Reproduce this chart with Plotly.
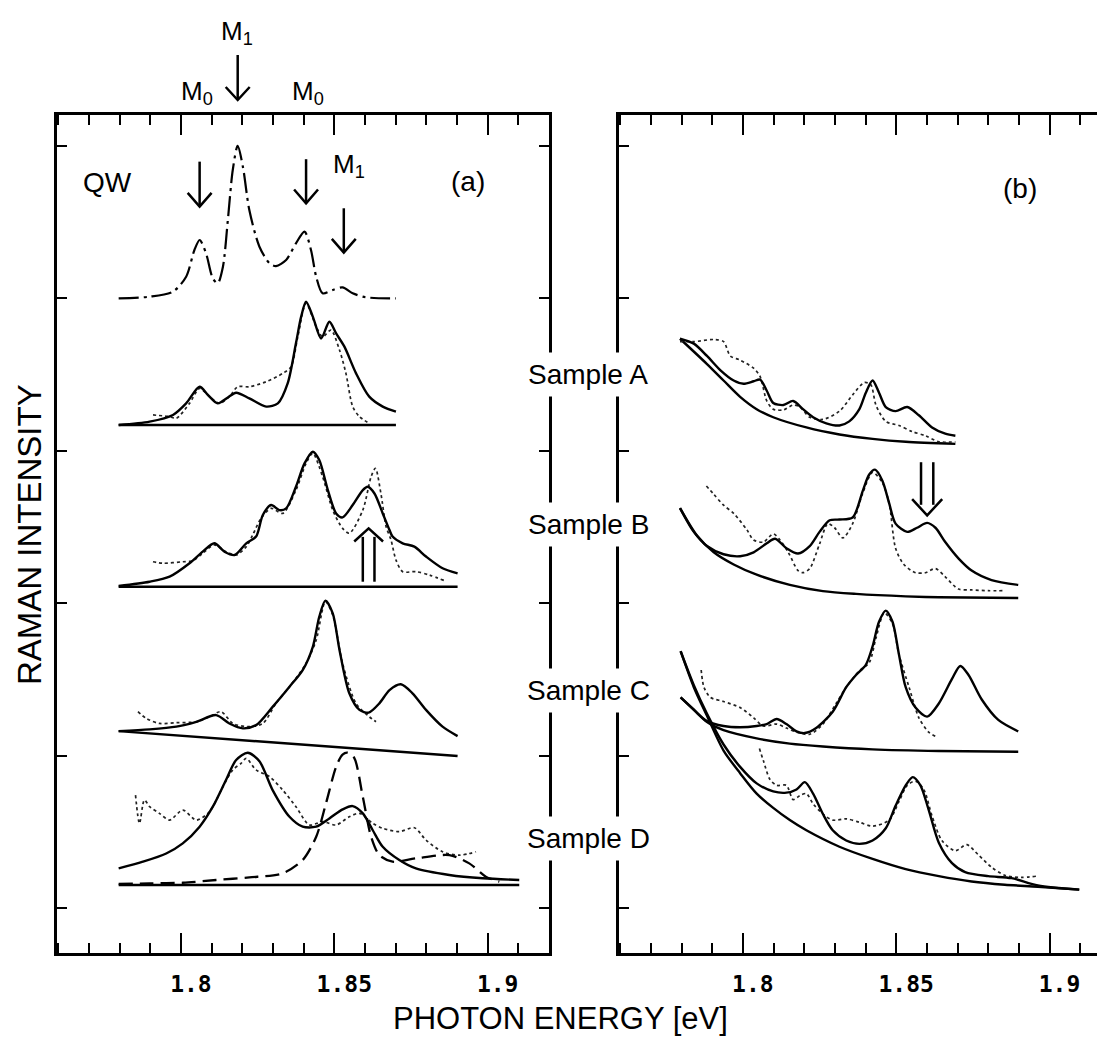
import plotly.graph_objects as go

# ---------------- panel (a) ----------------
qw_x = [1.7797, 1.7898, 1.7974, 1.8017, 1.8044, 1.8061, 1.8082, 1.8104, 1.8120, 1.8137, 1.8153, 1.8169, 1.8185,
        1.8202, 1.8223, 1.8256, 1.8289, 1.8310, 1.8343, 1.8375, 1.8403, 1.8424, 1.8441, 1.8462, 1.8495, 1.8527,
        1.8560, 1.8603, 1.8701]
qw_y = [4.000, 4.011, 4.044, 4.142, 4.317, 4.383, 4.295, 4.131, 4.099, 4.208, 4.514, 4.842, 5.000,
        4.864, 4.580, 4.339, 4.230, 4.212, 4.252, 4.361, 4.438, 4.317, 4.142, 4.033, 4.055, 4.072,
        4.033, 4.007, 4.000]

a_fit_x = [1.7797, 1.7898, 1.7974, 1.8017, 1.8061, 1.8088, 1.8120, 1.8153, 1.8180, 1.8223, 1.8278, 1.8316, 1.8348,
           1.8375, 1.8392, 1.8408, 1.8430, 1.8457, 1.8484, 1.8506, 1.8533, 1.8571, 1.8614, 1.8658, 1.8701]
a_fit_y = [3.169, 3.191, 3.235, 3.311, 3.420, 3.366, 3.311, 3.350, 3.381, 3.344, 3.290, 3.311, 3.442,
           3.705, 3.880, 3.978, 3.880, 3.737, 3.847, 3.770, 3.683, 3.508, 3.355, 3.290, 3.257]
a_dat_x = [1.7909, 1.7963, 1.7985, 1.8028, 1.8061, 1.8093, 1.8126, 1.8158, 1.8185, 1.8223, 1.8278, 1.8332, 1.8359,
           1.8381, 1.8408, 1.8441, 1.8462, 1.8489, 1.8517, 1.8538, 1.8560, 1.8582, 1.8614]
a_dat_y = [3.235, 3.224, 3.213, 3.311, 3.409, 3.355, 3.311, 3.355, 3.420, 3.420, 3.453, 3.508, 3.551,
           3.748, 3.967, 3.814, 3.748, 3.792, 3.661, 3.508, 3.290, 3.224, 3.180]
a_base_x = [1.7797, 1.8701]
a_base_y = [3.169, 3.169]

b_fit_x = [1.7797, 1.7898, 1.7963, 1.8028, 1.8071, 1.8109, 1.8142, 1.8175, 1.8213, 1.8245, 1.8267, 1.8294, 1.8321,
           1.8343, 1.8375, 1.8403, 1.8430, 1.8451, 1.8479, 1.8506, 1.8527, 1.8560, 1.8593, 1.8609, 1.8631, 1.8658,
           1.8680, 1.8690, 1.8723, 1.8761, 1.8799, 1.8853, 1.8902]
b_fit_y = [2.113, 2.141, 2.174, 2.262, 2.338, 2.393, 2.338, 2.316, 2.393, 2.437, 2.579, 2.644, 2.611,
           2.622, 2.764, 2.917, 2.994, 2.939, 2.742, 2.589, 2.563, 2.644, 2.742, 2.764, 2.720, 2.589,
           2.480, 2.437, 2.393, 2.371, 2.306, 2.229, 2.196]
b_dat_x = [1.7909, 1.7941, 1.8006, 1.8039, 1.8071, 1.8109, 1.8147, 1.8180, 1.8213, 1.8234, 1.8261, 1.8294, 1.8332,
           1.8375, 1.8408, 1.8430, 1.8462, 1.8495, 1.8527, 1.8549, 1.8593, 1.8620, 1.8634, 1.8652, 1.8669, 1.8685,
           1.8701, 1.8723, 1.8766, 1.8810, 1.8859]
b_dat_y = [2.272, 2.262, 2.272, 2.279, 2.327, 2.382, 2.338, 2.316, 2.371, 2.448, 2.556, 2.622, 2.589,
           2.742, 2.917, 2.983, 2.829, 2.611, 2.491, 2.459, 2.611, 2.829, 2.885, 2.720, 2.502, 2.415,
           2.284, 2.207, 2.207, 2.185, 2.148]
b_base_x = [1.7797, 1.8902]
b_base_y = [2.108, 2.108]

c_fit_x = [1.7797, 1.7898, 1.7985, 1.8050, 1.8115, 1.8158, 1.8202, 1.8245, 1.8299, 1.8354, 1.8397, 1.8430, 1.8451,
           1.8471, 1.8495, 1.8517, 1.8549, 1.8582, 1.8612, 1.8647, 1.8680, 1.8717, 1.8755, 1.8799, 1.8853, 1.8902]
c_fit_y = [1.161, 1.172, 1.190, 1.222, 1.266, 1.211, 1.179, 1.200, 1.320, 1.452, 1.561, 1.714, 1.911,
           2.017, 1.933, 1.693, 1.409, 1.300, 1.282, 1.343, 1.430, 1.468, 1.409, 1.300, 1.190, 1.128]
c_dat_x = [1.7860, 1.7887, 1.7930, 1.7985, 1.8050, 1.8093, 1.8131, 1.8169, 1.8223, 1.8267, 1.8310, 1.8354, 1.8408,
           1.8441, 1.8471, 1.8495, 1.8527, 1.8571, 1.8614, 1.8636]
c_dat_y = [1.288, 1.244, 1.211, 1.216, 1.222, 1.255, 1.288, 1.211, 1.190, 1.211, 1.343, 1.452, 1.605,
           1.758, 2.010, 1.922, 1.605, 1.343, 1.255, 1.222]
c_base_x = [1.7797, 1.8902]
c_base_y = [1.161, 0.997]

d_fit_x = [1.7797, 1.7876, 1.7952, 1.8006, 1.8061, 1.8104, 1.8147, 1.8180, 1.8218, 1.8256, 1.8299, 1.8354, 1.8397,
           1.8441, 1.8484, 1.8527, 1.8560, 1.8593, 1.8625, 1.8658, 1.8712, 1.8766, 1.8875, 1.8984, 1.9103]
d_fit_y = [0.260, 0.304, 0.358, 0.424, 0.534, 0.665, 0.840, 0.971, 1.019, 0.963, 0.774, 0.599, 0.534,
           0.534, 0.588, 0.647, 0.669, 0.621, 0.512, 0.402, 0.315, 0.260, 0.217, 0.195, 0.184]
d_dash_x = [1.7797, 1.7898, 1.8006, 1.8115, 1.8223, 1.8332, 1.8397, 1.8441, 1.8473, 1.8506, 1.8527, 1.8544, 1.8565,
            1.8593, 1.8620, 1.8647, 1.8690, 1.8766, 1.8875, 1.8940, 1.8994, 1.9038]
d_dash_y = [0.158, 0.162, 0.166, 0.184, 0.201, 0.228, 0.315, 0.468, 0.687, 0.927, 1.007, 1.019, 0.985,
            0.730, 0.468, 0.347, 0.304, 0.326, 0.347, 0.293, 0.206, 0.173]
d_dat_x = [1.7852, 1.7865, 1.7881, 1.7898, 1.7930, 1.7963, 1.8006, 1.8050, 1.8093, 1.8137, 1.8169, 1.8196, 1.8213,
           1.8245, 1.8289, 1.8332, 1.8375, 1.8419, 1.8462, 1.8506, 1.8549, 1.8582, 1.8625, 1.8658, 1.8712, 1.8761,
           1.8799, 1.8853, 1.8908, 1.8962]
d_dat_y = [0.741, 0.556, 0.709, 0.665, 0.621, 0.577, 0.643, 0.577, 0.632, 0.796, 0.906, 0.949, 0.982,
           0.906, 0.862, 0.774, 0.665, 0.545, 0.567, 0.545, 0.599, 0.621, 0.556, 0.523, 0.501, 0.527,
           0.446, 0.369, 0.347, 0.369]
d_base_x = [1.7797, 1.9103]
d_base_y = [0.151, 0.151]

# ---------------- panel (b) ----------------
bA_bg_x = [1.7795, 1.7883, 1.7937, 1.7991, 1.8045, 1.8099, 1.8207, 1.8315, 1.8423, 1.8531, 1.8693]
bA_bg_y = [3.735, 3.569, 3.461, 3.354, 3.273, 3.220, 3.153, 3.107, 3.078, 3.059, 3.045]
bA_fit_x = [1.7795, 1.7840, 1.7883, 1.7927, 1.7970, 1.8002, 1.8035, 1.8056, 1.8078, 1.8099, 1.8132, 1.8164, 1.8196,
            1.8229, 1.8272, 1.8315, 1.8347, 1.8380, 1.8401, 1.8423, 1.8444, 1.8466, 1.8498, 1.8536, 1.8574, 1.8617,
            1.8660, 1.8693]
bA_fit_y = [3.735, 3.703, 3.622, 3.528, 3.461, 3.440, 3.456, 3.467, 3.394, 3.314, 3.300, 3.327, 3.273,
            3.220, 3.180, 3.166, 3.193, 3.273, 3.381, 3.461, 3.381, 3.287, 3.260, 3.287, 3.233, 3.153,
            3.112, 3.099]
bA_dat_x = [1.7795, 1.7840, 1.7905, 1.7937, 1.7959, 1.7991, 1.8035, 1.8056, 1.8078, 1.8099, 1.8132, 1.8164, 1.8186,
            1.8218, 1.8261, 1.8315, 1.8358, 1.8396, 1.8417, 1.8434, 1.8466, 1.8509, 1.8552, 1.8595, 1.8639, 1.8693]
bA_dat_y = [3.716, 3.716, 3.730, 3.716, 3.622, 3.595, 3.542, 3.488, 3.327, 3.273, 3.268, 3.300, 3.287,
            3.220, 3.206, 3.260, 3.367, 3.448, 3.434, 3.300, 3.193, 3.166, 3.126, 3.099, 3.059, 3.059]

bB_bg_x = [1.7795, 1.7851, 1.7905, 1.7970, 1.8045, 1.8153, 1.8261, 1.8369, 1.8531, 1.8639, 1.8898]
bB_bg_y = [2.624, 2.442, 2.334, 2.254, 2.187, 2.120, 2.079, 2.061, 2.045, 2.039, 2.034]
bB_fit_x = [1.7795, 1.7840, 1.7883, 1.7937, 1.7991, 1.8035, 1.8078, 1.8105, 1.8142, 1.8180, 1.8218, 1.8250, 1.8283,
            1.8315, 1.8358, 1.8391, 1.8412, 1.8431, 1.8455, 1.8477, 1.8498, 1.8536, 1.8568, 1.8601, 1.8628, 1.8660,
            1.8703, 1.8746, 1.8811, 1.8898]
bB_fit_y = [2.624, 2.468, 2.375, 2.321, 2.308, 2.334, 2.393, 2.423, 2.361, 2.326, 2.375, 2.468, 2.544,
            2.549, 2.562, 2.737, 2.844, 2.876, 2.804, 2.656, 2.522, 2.468, 2.495, 2.527, 2.495, 2.401,
            2.294, 2.214, 2.152, 2.120]
bB_dat_x = [1.7881, 1.7905, 1.7937, 1.7970, 1.8013, 1.8035, 1.8067, 1.8099, 1.8121, 1.8148, 1.8180, 1.8196, 1.8218,
            1.8250, 1.8277, 1.8299, 1.8326, 1.8358, 1.8391, 1.8423, 1.8455, 1.8477, 1.8498, 1.8525, 1.8563, 1.8595,
            1.8628, 1.8660, 1.8703, 1.8746, 1.8800, 1.8854]
bB_dat_y = [2.769, 2.715, 2.643, 2.589, 2.482, 2.415, 2.401, 2.455, 2.415, 2.334, 2.214, 2.200, 2.227,
            2.388, 2.522, 2.495, 2.428, 2.522, 2.723, 2.858, 2.790, 2.656, 2.361, 2.254, 2.200, 2.200,
            2.227, 2.173, 2.093, 2.087, 2.082, 2.082]

bC_bg_x = [1.7797, 1.7840, 1.7883, 1.7937, 1.8045, 1.8153, 1.8261, 1.8423, 1.8639, 1.8898]
bC_bg_y = [1.382, 1.301, 1.221, 1.167, 1.113, 1.079, 1.060, 1.041, 1.030, 1.025]
bC_fit_x = [1.7797, 1.7840, 1.7883, 1.7937, 1.7991, 1.8045, 1.8078, 1.8110, 1.8142, 1.8175, 1.8202, 1.8239, 1.8293,
            1.8337, 1.8369, 1.8401, 1.8423, 1.8444, 1.8466, 1.8488, 1.8509, 1.8531, 1.8563, 1.8601, 1.8639, 1.8682,
            1.8709, 1.8736, 1.8779, 1.8833, 1.8898]
bC_fit_y = [1.382, 1.301, 1.226, 1.194, 1.186, 1.194, 1.207, 1.240, 1.207, 1.159, 1.148, 1.181, 1.288,
            1.449, 1.529, 1.596, 1.717, 1.878, 1.951, 1.878, 1.664, 1.449, 1.315, 1.256, 1.342, 1.503,
            1.588, 1.529, 1.368, 1.234, 1.159]
bC_dat_x = [1.7864, 1.7873, 1.7894, 1.7937, 1.7991, 1.8035, 1.8067, 1.8110, 1.8142, 1.8175, 1.8218, 1.8261, 1.8304,
            1.8337, 1.8380, 1.8412, 1.8434, 1.8461, 1.8488, 1.8509, 1.8542, 1.8574, 1.8606, 1.8628]
bC_dat_y = [1.562, 1.449, 1.382, 1.355, 1.315, 1.248, 1.194, 1.207, 1.181, 1.154, 1.140, 1.207, 1.342,
            1.449, 1.556, 1.610, 1.771, 1.937, 1.865, 1.664, 1.449, 1.248, 1.154, 1.127]

bD_bg_x = [1.7797, 1.7840, 1.7883, 1.7937, 1.7991, 1.8045, 1.8099, 1.8153, 1.8207, 1.8315, 1.8423, 1.8531, 1.8639,
           1.8746, 1.8854, 1.8962, 1.9097]
bD_bg_y = [1.685, 1.449, 1.261, 1.033, 0.885, 0.751, 0.657, 0.577, 0.510, 0.402, 0.322, 0.255, 0.209,
           0.174, 0.153, 0.140, 0.121]
bD_fit_x = [1.7797, 1.7840, 1.7883, 1.7937, 1.7991, 1.8045, 1.8099, 1.8142, 1.8175, 1.8202, 1.8229, 1.8261, 1.8293,
            1.8337, 1.8380, 1.8423, 1.8466, 1.8498, 1.8531, 1.8554, 1.8579, 1.8606, 1.8639, 1.8682, 1.8725, 1.8800,
            1.8876, 1.8962, 1.9097]
bD_fit_y = [1.685, 1.462, 1.274, 1.073, 0.926, 0.818, 0.765, 0.757, 0.778, 0.826, 0.751, 0.617, 0.510,
            0.443, 0.421, 0.443, 0.523, 0.671, 0.805, 0.859, 0.805, 0.644, 0.429, 0.295, 0.236, 0.209,
            0.196, 0.148, 0.121]
bD_dat_x = [1.8054, 1.8067, 1.8088, 1.8110, 1.8142, 1.8164, 1.8186, 1.8207, 1.8229, 1.8261, 1.8293, 1.8337, 1.8380,
            1.8423, 1.8477, 1.8509, 1.8536, 1.8563, 1.8590, 1.8617, 1.8649, 1.8693, 1.8730, 1.8768, 1.8811, 1.8854,
            1.8908, 1.8957]
bD_dat_y = [1.046, 0.966, 0.845, 0.805, 0.805, 0.711, 0.738, 0.751, 0.684, 0.617, 0.577, 0.585, 0.563,
            0.537, 0.577, 0.698, 0.805, 0.832, 0.778, 0.604, 0.443, 0.376, 0.416, 0.349, 0.268, 0.215,
            0.201, 0.209]

x_range = [1.7596, 1.920]
xb_range = [1.7596, 1.9181]
y_range = [-0.295, 5.203]
major_ticks = [1.8, 1.85, 1.9]
tick_text = ["1.8", "1.85", "1.9"]
sample_labels = ["Sample A", "Sample B", "Sample C", "Sample D"]

# page body has an 8px margin, so the figure is drawn 8px in from the window corner
W, H, OFF = 1097, 1035, 8


def px(x):
    return (x - OFF) / W


def py(y):
    return 1 - (y - OFF) / H


SOLID = {"color": "black", "width": 2.4}
DOT = {"color": "#222", "width": 1.7, "dash": "dot"}
DASHDOT = {"color": "black", "width": 2.2, "dash": "20px,5px,3px,5px"}
DASHED = {"color": "black", "width": 2.3, "dash": "14px,7px"}

fig = go.Figure()


def curve(x, y, line, panel=1, shape="spline"):
    ln = dict(line, shape=shape)
    if shape == "spline":
        ln["smoothing"] = 0.8
    fig.add_trace(
        go.Scatter(
            x=x, y=y, mode="lines", line=ln,
            xaxis="x" if panel == 1 else "x2",
            yaxis="y" if panel == 1 else "y2",
            hoverinfo="skip",
        )
    )


curve(qw_x, qw_y, DASHDOT)
for fx, fy, dx, dy, bx, by in [
    (a_fit_x, a_fit_y, a_dat_x, a_dat_y, a_base_x, a_base_y),
    (b_fit_x, b_fit_y, b_dat_x, b_dat_y, b_base_x, b_base_y),
    (c_fit_x, c_fit_y, c_dat_x, c_dat_y, c_base_x, c_base_y),
    (d_fit_x, d_fit_y, d_dat_x, d_dat_y, d_base_x, d_base_y),
]:
    curve(bx, by, SOLID, shape="linear")
    curve(dx, dy, DOT)
    curve(fx, fy, SOLID)
curve(d_dash_x, d_dash_y, DASHED)

for gx, gy, fx, fy, dx, dy in [
    (bA_bg_x, bA_bg_y, bA_fit_x, bA_fit_y, bA_dat_x, bA_dat_y),
    (bB_bg_x, bB_bg_y, bB_fit_x, bB_fit_y, bB_dat_x, bB_dat_y),
    (bC_bg_x, bC_bg_y, bC_fit_x, bC_fit_y, bC_dat_x, bC_dat_y),
    (bD_bg_x, bD_bg_y, bD_fit_x, bD_fit_y, bD_dat_x, bD_dat_y),
]:
    curve(gx, gy, SOLID, panel=2)
    curve(dx, dy, DOT, panel=2)
    curve(fx, fy, SOLID, panel=2)

shapes = []


def down_arrow(x, top, tip, xref="x", yref="y", hw=0.0039, hh=0.09):
    shapes.append(dict(type="line", xref=xref, yref=yref, x0=x, x1=x, y0=top, y1=tip,
                       line=dict(color="black", width=2.5)))
    shapes.append(dict(type="path", xref=xref, yref=yref,
                       path=f"M {x - hw} {tip + hh} L {x} {tip} L {x + hw} {tip + hh}",
                       line=dict(color="black", width=2.5)))


def double_arrow(x, hw, gap, y_tail, y_tip, y_wing, xref, yref):
    for dx in (-gap, gap):
        shapes.append(dict(type="line", xref=xref, yref=yref, x0=x + dx, x1=x + dx,
                           y0=y_tail, y1=y_wing + (y_tip - y_wing) * 0.35,
                           line=dict(color="black", width=2.5)))
    shapes.append(dict(type="path", xref=xref, yref=yref,
                       path=f"M {x - hw} {y_wing} L {x} {y_tip} L {x + hw} {y_wing}",
                       line=dict(color="black", width=2.5)))


down_arrow(1.8061, 4.897, 4.602)
down_arrow(1.8408, 4.913, 4.624)
down_arrow(1.8531, 4.591, 4.300)
# arrow above panel (a), paper coordinates
down_arrow(px(237.7), py(55), py(100), xref="paper", yref="paper", hw=12 / W, hh=13 / H)
double_arrow(1.8612, 0.0047, 0.0019, 2.141, 2.491, 2.405, "x", "y")
double_arrow(1.8601, 0.0049, 0.0020, 2.925, 2.576, 2.683, "x2", "y2")

SANS = "Liberation Sans, Arial, Helvetica, sans-serif"
ann = []


def text(t, x, y, size, xref="x", yref="y", **kw):
    ann.append(dict(text=t, x=x, y=y, xref=xref, yref=yref, showarrow=False,
                    xanchor="center", yanchor="middle",
                    font=dict(family=SANS, size=size, color="black"), **kw))


text("QW", 1.7759, 4.757, 28)
text("(a)", 1.8936, 4.764, 28)
text("(b)", 1.8903, 4.724, 28, xref="x2", yref="y2")
text("M<sub>1</sub>", 1.8548, 4.87, 26)
text("M<sub>0</sub>", px(197), py(92), 26, xref="paper", yref="paper")
text("M<sub>0</sub>", px(308), py(92), 26, xref="paper", yref="paper")
text("M<sub>1</sub>", px(237), py(33), 26, xref="paper", yref="paper")
for label, ypix in zip(sample_labels, [374, 524, 690, 838]):
    text(label, px(588), py(ypix), 28, xref="paper", yref="paper",
         bgcolor="white", borderpad=6)
text("PHOTON ENERGY [eV]", px(560), py(1018), 31, xref="paper", yref="paper")
text("RAMAN INTENSITY", px(29), py(535), 33, xref="paper", yref="paper", textangle=-90)

xaxis_common = dict(
    tickmode="array", tickvals=major_ticks, ticktext=tick_text,
    ticks="inside", ticklen=20, tickwidth=2, tickcolor="black",
    minor=dict(dtick=0.01, tick0=1.8, ticks="inside", ticklen=10, tickwidth=2, tickcolor="black"),
    showline=True, linewidth=3, linecolor="black", mirror="ticks",
    showgrid=False, zeroline=False,
    tickfont=dict(family="DejaVu Sans Mono, Liberation Mono, monospace", size=23, color="black",
                  weight="bold"),
    ticklabelshift=10, ticklabelstandoff=8,
)
yaxis_common = dict(
    range=y_range, tickmode="array", tickvals=[0, 1, 2, 3, 4, 5],
    ticks="inside", ticklen=10, tickwidth=2, tickcolor="black", showticklabels=False,
    showline=True, linewidth=3, linecolor="black",
    showgrid=False, zeroline=False,
)

ydom = [py(953), py(115)]
fig.update_layout(
    width=W, height=H,
    margin=dict(l=0, r=0, t=0, b=0),
    paper_bgcolor="white", plot_bgcolor="white",
    showlegend=False,
    xaxis=dict(xaxis_common, range=x_range, domain=[px(57), px(549)], anchor="y"),
    yaxis=dict(yaxis_common, domain=ydom, anchor="x", mirror="ticks"),
    xaxis2=dict(xaxis_common, range=xb_range, domain=[px(619), 1.0], anchor="y2"),
    yaxis2=dict(yaxis_common, domain=ydom, anchor="x2", mirror=False),
    shapes=shapes,
    annotations=ann,
)

fig.write_html("out.html")
